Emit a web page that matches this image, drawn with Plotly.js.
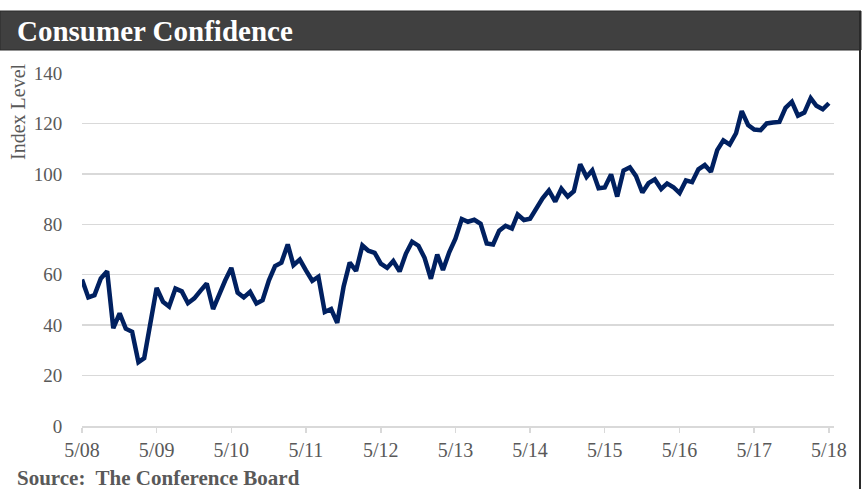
<!DOCTYPE html>
<html>
<head>
<meta charset="utf-8">
<script src="https://cdn.plot.ly/plotly-3.0.1.min.js"></script>
<style>html,body{margin:0;padding:0;background:#fff;}#chart{width:863px;height:489px;}</style>
</head>
<body>
<div id="chart"></div>
<script>
// Monthly index values, May 2008 – May 2018
const startYear = 2008, startMonth = 5;
const values = [
  58.1, 51.0, 51.9, 58.5, 61.4, 38.8, 44.7, 38.6,
  37.4, 25.3, 26.9, 40.8, 54.8, 49.3, 47.4, 54.5, 53.4, 48.7, 50.6, 53.6,
  56.5, 46.4, 52.3, 57.7, 62.7, 52.9, 51.0, 53.2, 48.6, 49.9, 57.8, 63.4,
  64.8, 72.0, 63.8, 66.0, 61.7, 57.6, 59.2, 45.2, 46.4, 40.9, 55.2, 64.8,
  61.5, 71.6, 69.5, 68.7, 64.4, 62.7, 65.4, 61.3, 68.4, 73.1, 71.5, 66.7,
  58.4, 68.0, 61.9, 69.0, 74.3, 82.1, 81.0, 81.8, 80.2, 72.4, 72.0, 77.5,
  79.4, 78.3, 83.9, 81.7, 82.2, 86.4, 90.3, 93.4, 89.0, 94.1, 91.0, 93.1,
  103.8, 98.8, 101.4, 94.3, 94.6, 99.8, 91.0, 101.3, 102.6, 99.1, 92.6, 96.3,
  97.8, 94.0, 96.2, 94.7, 92.4, 97.4, 96.7, 101.8, 103.5, 100.8, 109.4, 113.3,
  111.6, 116.1, 124.9, 119.4, 117.6, 117.3, 120.0, 120.4, 120.6, 126.2, 128.6, 123.1,
  124.3, 130.0, 127.0, 125.6, 128.0
];
const tickVals = ['2008-05-01','2009-05-01','2010-05-01','2011-05-01','2012-05-01','2013-05-01','2014-05-01','2015-05-01','2016-05-01','2017-05-01','2018-05-01'];
const tickText = ['5/08','5/09','5/10','5/11','5/12','5/13','5/14','5/15','5/16','5/17','5/18'];
const yTicks = [0, 20, 40, 60, 80, 100, 120, 140];

const dates = values.map((v, i) => {
  const m0 = startMonth - 1 + i;
  const y = startYear + Math.floor(m0 / 12);
  const m = (m0 % 12) + 1;
  return y + '-' + String(m).padStart(2, '0') + '-01';
});

// layout geometry (pixels)
const W = 863, H = 489, L = 82, R = 834, T = 73, B = 426;
const px = x => (x - L) / (R - L);
const py = y => (B - y) / (B - T);
const serif = '"Liberation Serif", "Times New Roman", serif';

const trace = {
  x: dates, y: values, type: 'scatter', mode: 'lines',
  line: {color: '#002060', width: 4.5, shape: 'linear'},
  hoverinfo: 'skip'
};

const layout = {
  width: W, height: H,
  margin: {l: L, r: W - R, t: T, b: H - B, pad: 0},
  paper_bgcolor: '#ffffff', plot_bgcolor: '#ffffff',
  showlegend: false,
  font: {family: serif, color: '#595959', size: 19},
  xaxis: {
    type: 'date',
    range: ['2008-05-01', '2018-05-26'],
    tickvals: tickVals, ticktext: tickText,
    showgrid: false, zeroline: false,
    showline: true, linecolor: '#d9d9d9', linewidth: 1.5,
    ticks: 'outside', ticklen: 5, tickcolor: '#d9d9d9', tickwidth: 1.5,
    tickfont: {family: serif, size: 20, color: '#595959'},
    fixedrange: true
  },
  yaxis: {
    range: [0, 140],
    tickvals: yTicks,
    showgrid: true, gridcolor: '#d9d9d9', gridwidth: 1.5,
    zeroline: false, showline: false,
    ticks: 'outside', ticklen: 15, tickcolor: 'rgba(0,0,0,0)',
    tickfont: {family: serif, size: 19, color: '#595959'},
    fixedrange: true
  },
  shapes: [
    {type: 'rect', xref: 'paper', yref: 'paper', x0: px(0), x1: px(861), y0: py(50), y1: py(11),
     fillcolor: '#404040', line: {color: '#2a2a2a', width: 1}, layer: 'below'},
    {type: 'line', xref: 'paper', yref: 'paper', x0: px(860), x1: px(860), y0: py(11), y1: py(489),
     line: {color: '#2a2a2a', width: 2}}
  ],
  annotations: [
    {text: '<b>Consumer Confidence</b>', xref: 'paper', yref: 'paper', x: px(15), y: py(31),
     xanchor: 'left', yanchor: 'middle', showarrow: false,
     font: {family: serif, size: 29, color: '#ffffff'}},
    {text: 'Index Level', xref: 'paper', yref: 'paper', x: px(18), y: py(112),
     xanchor: 'center', yanchor: 'middle', textangle: -90, showarrow: false,
     font: {family: serif, size: 20, color: '#595959'}},
    {text: '<b>Source:  The Conference Board</b>', xref: 'paper', yref: 'paper', x: px(15), y: py(478),
     xanchor: 'left', yanchor: 'middle', showarrow: false,
     font: {family: serif, size: 21, color: '#595959'}}
  ]
};

Plotly.newPlot('chart', [trace], layout, {displayModeBar: false, staticPlot: true});
</script>
</body>
</html>
